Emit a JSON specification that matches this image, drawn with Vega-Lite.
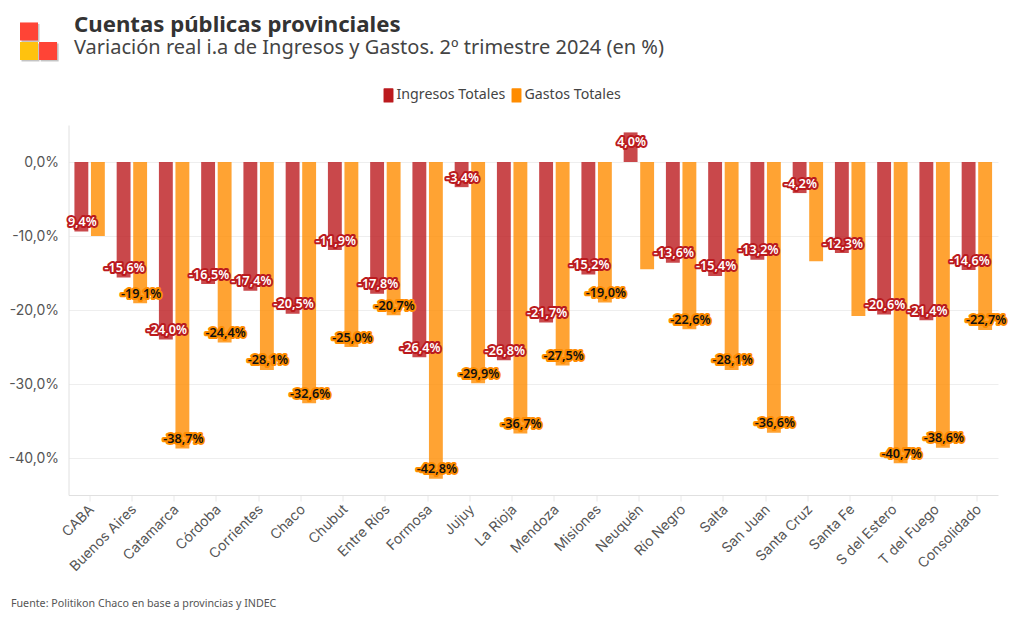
{"$schema":"https://vega.github.io/schema/vega-lite/v6.json","width":929.5,"height":370,"autosize":{"type":"none"},"padding":{"left":68.5,"top":125,"right":22,"bottom":125},"background":"#ffffff","title":{"text":"Cuentas públicas provinciales","subtitle":"Variación real i.a de Ingresos y Gastos. 2º trimestre 2024 (en %)","anchor":"start","frame":"group","dx":5.5,"offset":-36,"font":"Noto Sans","fontSize":22.2,"fontWeight":700,"color":"#333333","subtitleFont":"Noto Sans","subtitleFontSize":20,"subtitleColor":"#444444","subtitlePadding":2},"config":{"view":{"stroke":null}},"datasets":{"rows":[{"prov":"CABA","serie":"Ingresos Totales","valor":-9.4,"etiqueta":"9,4%"},{"prov":"CABA","serie":"Gastos Totales","valor":-10.0,"etiqueta":null},{"prov":"Buenos Aires","serie":"Ingresos Totales","valor":-15.6,"etiqueta":"-15,6%"},{"prov":"Buenos Aires","serie":"Gastos Totales","valor":-19.1,"etiqueta":"-19,1%"},{"prov":"Catamarca","serie":"Ingresos Totales","valor":-24.0,"etiqueta":"-24,0%"},{"prov":"Catamarca","serie":"Gastos Totales","valor":-38.7,"etiqueta":"-38,7%"},{"prov":"Córdoba","serie":"Ingresos Totales","valor":-16.5,"etiqueta":"-16,5%"},{"prov":"Córdoba","serie":"Gastos Totales","valor":-24.4,"etiqueta":"-24,4%"},{"prov":"Corrientes","serie":"Ingresos Totales","valor":-17.4,"etiqueta":"-17,4%"},{"prov":"Corrientes","serie":"Gastos Totales","valor":-28.1,"etiqueta":"-28,1%"},{"prov":"Chaco","serie":"Ingresos Totales","valor":-20.5,"etiqueta":"-20,5%"},{"prov":"Chaco","serie":"Gastos Totales","valor":-32.6,"etiqueta":"-32,6%"},{"prov":"Chubut","serie":"Ingresos Totales","valor":-11.9,"etiqueta":"-11,9%"},{"prov":"Chubut","serie":"Gastos Totales","valor":-25.0,"etiqueta":"-25,0%"},{"prov":"Entre Ríos","serie":"Ingresos Totales","valor":-17.8,"etiqueta":"-17,8%"},{"prov":"Entre Ríos","serie":"Gastos Totales","valor":-20.7,"etiqueta":"-20,7%"},{"prov":"Formosa","serie":"Ingresos Totales","valor":-26.4,"etiqueta":"-26,4%"},{"prov":"Formosa","serie":"Gastos Totales","valor":-42.8,"etiqueta":"-42,8%"},{"prov":"Jujuy","serie":"Ingresos Totales","valor":-3.4,"etiqueta":"-3,4%"},{"prov":"Jujuy","serie":"Gastos Totales","valor":-29.9,"etiqueta":"-29,9%"},{"prov":"La Rioja","serie":"Ingresos Totales","valor":-26.8,"etiqueta":"-26,8%"},{"prov":"La Rioja","serie":"Gastos Totales","valor":-36.7,"etiqueta":"-36,7%"},{"prov":"Mendoza","serie":"Ingresos Totales","valor":-21.7,"etiqueta":"-21,7%"},{"prov":"Mendoza","serie":"Gastos Totales","valor":-27.5,"etiqueta":"-27,5%"},{"prov":"Misiones","serie":"Ingresos Totales","valor":-15.2,"etiqueta":"-15,2%"},{"prov":"Misiones","serie":"Gastos Totales","valor":-19.0,"etiqueta":"-19,0%"},{"prov":"Neuquén","serie":"Ingresos Totales","valor":4.0,"etiqueta":"4,0%"},{"prov":"Neuquén","serie":"Gastos Totales","valor":-14.5,"etiqueta":null},{"prov":"Río Negro","serie":"Ingresos Totales","valor":-13.6,"etiqueta":"-13,6%"},{"prov":"Río Negro","serie":"Gastos Totales","valor":-22.6,"etiqueta":"-22,6%"},{"prov":"Salta","serie":"Ingresos Totales","valor":-15.4,"etiqueta":"-15,4%"},{"prov":"Salta","serie":"Gastos Totales","valor":-28.1,"etiqueta":"-28,1%"},{"prov":"San Juan","serie":"Ingresos Totales","valor":-13.2,"etiqueta":"-13,2%"},{"prov":"San Juan","serie":"Gastos Totales","valor":-36.6,"etiqueta":"-36,6%"},{"prov":"Santa Cruz","serie":"Ingresos Totales","valor":-4.2,"etiqueta":"-4,2%"},{"prov":"Santa Cruz","serie":"Gastos Totales","valor":-13.4,"etiqueta":null},{"prov":"Santa Fe","serie":"Ingresos Totales","valor":-12.3,"etiqueta":"-12,3%"},{"prov":"Santa Fe","serie":"Gastos Totales","valor":-20.8,"etiqueta":null},{"prov":"S del Estero","serie":"Ingresos Totales","valor":-20.6,"etiqueta":"-20,6%"},{"prov":"S del Estero","serie":"Gastos Totales","valor":-40.7,"etiqueta":"-40,7%"},{"prov":"T del Fuego","serie":"Ingresos Totales","valor":-21.4,"etiqueta":"-21,4%"},{"prov":"T del Fuego","serie":"Gastos Totales","valor":-38.6,"etiqueta":"-38,6%"},{"prov":"Consolidado","serie":"Ingresos Totales","valor":-14.6,"etiqueta":"-14,6%"},{"prov":"Consolidado","serie":"Gastos Totales","valor":-22.7,"etiqueta":"-22,7%"}],"logo":[{"a":-4.09,"b":17.44,"pieza":"sombra"},{"a":-4.09,"b":14.8,"pieza":"sombra"},{"a":-2.03,"b":14.8,"pieza":"sombra"},{"a":-4.25,"b":17.64,"pieza":"rojo"},{"a":-4.25,"b":15.0,"pieza":"amarillo"},{"a":-2.2,"b":15.0,"pieza":"rojo"}],"nota":[{"a":-6.19,"b":-59.7,"texto":"Fuente: Politikon Chaco en base a provincias y INDEC"}]},"layer":[{"data":{"name":"rows"},"encoding":{"x":{"field":"prov","type":"nominal","sort":null,"scale":{"paddingInner":0.28,"paddingOuter":0.14},"axis":{"title":null,"labelAngle":-45,"labelAlign":"right","labelBaseline":"middle","labelFont":"Inter","labelFontSize":14,"labelColor":"#555555","labelPadding":6,"labelOffset":2.5,"tickColor":"#e8e8e8","tickSize":6,"domainColor":"#e0e0e0","grid":false}},"xOffset":{"field":"serie","type":"nominal","sort":["Ingresos Totales","Gastos Totales"],"scale":{"paddingInner":0.16}},"y":{"field":"valor","type":"quantitative","scale":{"domain":[-45,5],"nice":false},"axis":{"title":null,"values":[0,-10,-20,-30,-40],"labelExpr":"replace(replace(format(datum.value,'.1f'),'.',','),'−','-')+'%'","labelFont":"Inter","labelFontSize":14,"labelColor":"#555555","labelPadding":10,"tickSize":0,"domainColor":"#e0e0e0","gridColor":"#eeeeee","grid":true}}},"layer":[{"mark":{"type":"bar","opacity":0.8},"encoding":{"color":{"field":"serie","type":"nominal","sort":["Ingresos Totales","Gastos Totales"],"scale":{"domain":["Ingresos Totales","Gastos Totales"],"range":["#bb1a1e","#ff8c00"]},"legend":{"title":null,"orient":"none","legendX":312,"legendY":-38,"direction":"horizontal","labelFont":"Noto Sans","labelFontSize":14.2,"labelColor":"#444444","symbolType":"M-0.6,-1.03 H0.6 Q0.71,-1.03 0.71,-0.9 V0.9 Q0.71,1.03 0.6,1.03 H-0.6 Q-0.71,1.03 -0.71,0.9 V-0.9 Q-0.71,-1.03 -0.6,-1.03 Z","symbolSize":196,"symbolOpacity":1,"columnPadding":3,"labelOffset":0}}}},{"transform":[{"filter":"datum.etiqueta!=null && datum.valor<0"}],"mark":{"type":"text","font":"Noto Sans","fontSize":12.6,"fontWeight":600,"strokeWidth":4,"strokeJoin":"round","dy":-9.5,"dx":1},"encoding":{"text":{"field":"etiqueta"},"stroke":{"field":"serie","type":"nominal","scale":{"domain":["Ingresos Totales","Gastos Totales"],"range":["#bb1a1e","#ff8c00"]},"legend":null}}},{"transform":[{"filter":"datum.etiqueta!=null && datum.valor>=0"}],"mark":{"type":"text","font":"Noto Sans","fontSize":12.6,"fontWeight":600,"strokeWidth":4,"strokeJoin":"round","dy":9.5,"dx":1},"encoding":{"text":{"field":"etiqueta"},"stroke":{"field":"serie","type":"nominal","scale":{"domain":["Ingresos Totales","Gastos Totales"],"range":["#bb1a1e","#ff8c00"]},"legend":null}}},{"transform":[{"filter":"datum.etiqueta!=null && datum.valor<0"}],"mark":{"type":"text","font":"Noto Sans","fontSize":12.6,"fontWeight":600,"dy":-9.5,"dx":1},"encoding":{"text":{"field":"etiqueta"},"fill":{"field":"serie","type":"nominal","scale":{"domain":["Ingresos Totales","Gastos Totales"],"range":["#ffffff","#111111"]},"legend":null}}},{"transform":[{"filter":"datum.etiqueta!=null && datum.valor>=0"}],"mark":{"type":"text","font":"Noto Sans","fontSize":12.6,"fontWeight":600,"dy":9.5,"dx":1},"encoding":{"text":{"field":"etiqueta"},"fill":{"field":"serie","type":"nominal","scale":{"domain":["Ingresos Totales","Gastos Totales"],"range":["#ffffff","#111111"]},"legend":null}}}],"resolve":{"scale":{"fill":"independent","stroke":"independent","color":"independent"}}},{"data":{"name":"logo"},"mark":{"type":"point","shape":"square","filled":true,"size":324,"opacity":1},"encoding":{"x":{"field":"a","type":"quantitative","scale":{"domain":[0,100],"nice":false,"zero":false},"axis":null},"y":{"field":"b","type":"quantitative","scale":{"domain":[-45,5],"nice":false,"zero":false},"axis":null},"color":{"field":"pieza","type":"nominal","scale":{"domain":["sombra","rojo","amarillo"],"range":["#c4c4c4","#ff4436","#ffc20e"]},"legend":null}}},{"data":{"name":"nota"},"mark":{"type":"text","align":"left","font":"Noto Sans","fontSize":10.7,"color":"#555555"},"encoding":{"x":{"field":"a","type":"quantitative","scale":{"domain":[0,100],"nice":false,"zero":false},"axis":null},"y":{"field":"b","type":"quantitative","scale":{"domain":[-45,5],"nice":false,"zero":false},"axis":null},"text":{"field":"texto"}}}],"resolve":{"scale":{"x":"independent","y":"independent","color":"independent"},"axis":{"x":"independent","y":"independent"}}}
